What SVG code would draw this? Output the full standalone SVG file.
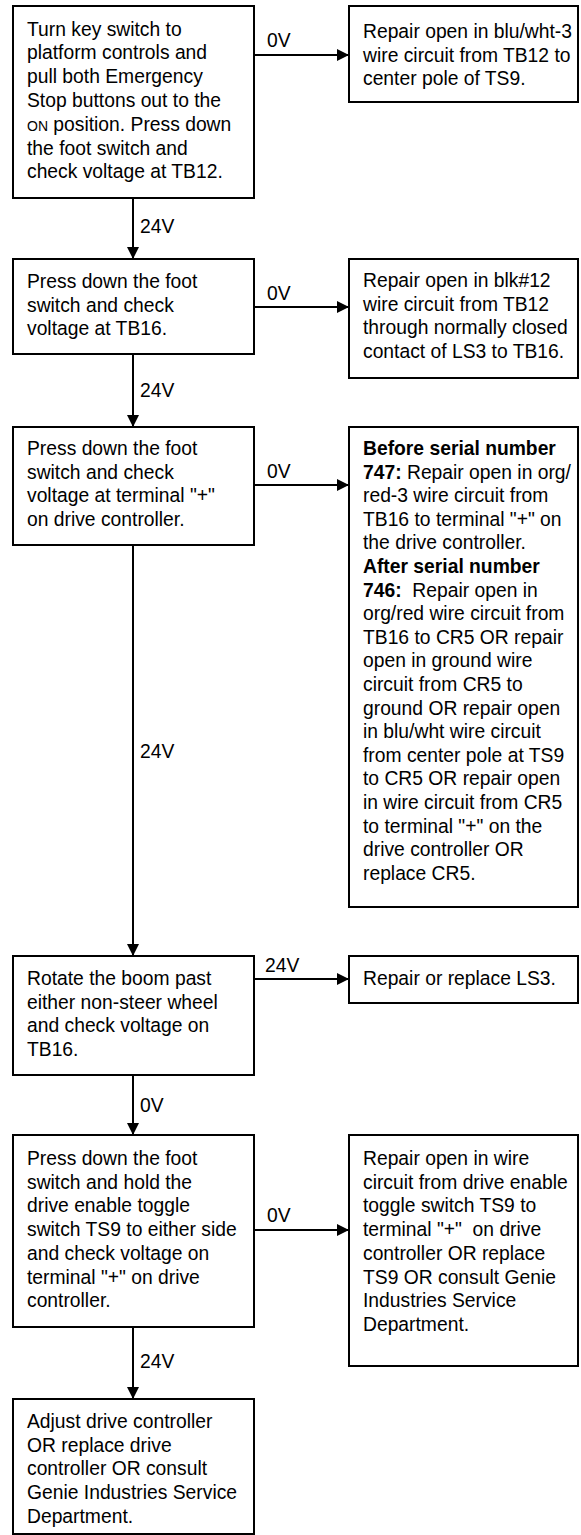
<svg xmlns="http://www.w3.org/2000/svg" width="581" height="1535" viewBox="0 0 581 1535">
<style>
  .box { fill: #fff; stroke: #000; stroke-width: 2; }
  .t { font-family: "Liberation Sans", Arial, sans-serif; font-size: 19.3px; fill: #000; white-space: pre; }
  .b { font-weight: bold; }
  .sc { font-size: 14px; }
  .lbl { font-family: "Liberation Sans", Arial, sans-serif; font-size: 19.3px; fill: #000; }
  .c { fill: none; stroke: #000; stroke-width: 2; marker-end: url(#ah); }
</style>
<defs>
  <marker id="ah" markerUnits="userSpaceOnUse" viewBox="0 0 12 12" refX="12" refY="6" markerWidth="12" markerHeight="12" orient="auto">
    <path d="M0,0 L12,6 L0,12 z" fill="#000"/>
  </marker>
</defs>
<rect width="581" height="1535" fill="#fff"/>

<g id="connectors">
  <path class="c" d="M254,55 H349"/>
  <path class="c" d="M133,198 V259"/>
  <path class="c" d="M254,307 H349"/>
  <path class="c" d="M133,354 V427"/>
  <path class="c" d="M254,485 H349"/>
  <path class="c" d="M133,545 V956"/>
  <path class="c" d="M254,979 H349"/>
  <path class="c" d="M133,1075 V1135"/>
  <path class="c" d="M254,1230 H349"/>
  <path class="c" d="M133,1327 V1399"/>
  <text class="lbl" x="267" y="47">0V</text>
  <text class="lbl" x="140" y="233">24V</text>
  <text class="lbl" x="267" y="300">0V</text>
  <text class="lbl" x="140" y="397">24V</text>
  <text class="lbl" x="267" y="478">0V</text>
  <text class="lbl" x="140" y="758">24V</text>
  <text class="lbl" x="265" y="972">24V</text>
  <text class="lbl" x="140" y="1112">0V</text>
  <text class="lbl" x="267" y="1222">0V</text>
  <text class="lbl" x="140" y="1368">24V</text>
</g>

<g id="n1">
  <rect class="box" x="13" y="6" width="241" height="192"/>
  <text class="t" x="27" y="35.5">
    <tspan x="27" y="35.5">Turn key switch to</tspan>
    <tspan x="27" dy="23.8">platform controls and</tspan>
    <tspan x="27" dy="23.8">pull both Emergency</tspan>
    <tspan x="27" dy="23.8">Stop buttons out to the</tspan>
    <tspan x="27" dy="23.8"><tspan class="sc">ON</tspan> position. Press down</tspan>
    <tspan x="27" dy="23.8">the foot switch and</tspan>
    <tspan x="27" dy="23.8">check voltage at TB12.</tspan>
  </text>
</g>

<g id="r1">
  <rect class="box" x="349" y="6" width="229" height="96"/>
  <text class="t">
    <tspan x="363" y="38">Repair open in blu/wht-3</tspan>
    <tspan x="363" dy="23.7">wire circuit from TB12 to</tspan>
    <tspan x="363" dy="23.7">center pole of TS9.</tspan>
  </text>
</g>

<g id="n2">
  <rect class="box" x="13" y="259" width="241" height="95"/>
  <text class="t">
    <tspan x="27" y="288">Press down the foot</tspan>
    <tspan x="27" dy="23.7">switch and check</tspan>
    <tspan x="27" dy="23.7">voltage at TB16.</tspan>
  </text>
</g>

<g id="r2">
  <rect class="box" x="349" y="259" width="229" height="119"/>
  <text class="t">
    <tspan x="363" y="287">Repair open in blk#12</tspan>
    <tspan x="363" dy="23.7">wire circuit from TB12</tspan>
    <tspan x="363" dy="23.7">through normally closed</tspan>
    <tspan x="363" dy="23.7">contact of LS3 to TB16.</tspan>
  </text>
</g>

<g id="n3">
  <rect class="box" x="13" y="427" width="241" height="118"/>
  <text class="t">
    <tspan x="27" y="455">Press down the foot</tspan>
    <tspan x="27" dy="23.7">switch and check</tspan>
    <tspan x="27" dy="23.7">voltage at terminal "+"</tspan>
    <tspan x="27" dy="23.7">on drive controller.</tspan>
  </text>
</g>

<g id="r3">
  <rect class="box" x="349" y="427" width="229" height="480"/>
  <text class="t">
    <tspan x="363" y="455" class="b">Before serial number</tspan>
    <tspan x="363" dy="23.6"><tspan class="b">747:</tspan> Repair open in org/</tspan>
    <tspan x="363" dy="23.6">red-3 wire circuit from</tspan>
    <tspan x="363" dy="23.6">TB16 to terminal "+" on</tspan>
    <tspan x="363" dy="23.6">the drive controller.</tspan>
    <tspan x="363" dy="23.6" class="b">After serial number</tspan>
    <tspan x="363" dy="23.6"><tspan class="b">746:</tspan>  Repair open in</tspan>
    <tspan x="363" dy="23.6">org/red wire circuit from</tspan>
    <tspan x="363" dy="23.6">TB16 to CR5 OR repair</tspan>
    <tspan x="363" dy="23.6">open in ground wire</tspan>
    <tspan x="363" dy="23.6">circuit from CR5 to</tspan>
    <tspan x="363" dy="23.6">ground OR repair open</tspan>
    <tspan x="363" dy="23.6">in blu/wht wire circuit</tspan>
    <tspan x="363" dy="23.6">from center pole at TS9</tspan>
    <tspan x="363" dy="23.6">to CR5 OR repair open</tspan>
    <tspan x="363" dy="23.6">in wire circuit from CR5</tspan>
    <tspan x="363" dy="23.6">to terminal "+" on the</tspan>
    <tspan x="363" dy="23.6">drive controller OR</tspan>
    <tspan x="363" dy="23.6">replace CR5.</tspan>
  </text>
</g>

<g id="n4">
  <rect class="box" x="13" y="956" width="241" height="119"/>
  <text class="t">
    <tspan x="27" y="985">Rotate the boom past</tspan>
    <tspan x="27" dy="23.7">either non-steer wheel</tspan>
    <tspan x="27" dy="23.7">and check voltage on</tspan>
    <tspan x="27" dy="23.7">TB16.</tspan>
  </text>
</g>

<g id="r4">
  <rect class="box" x="349" y="956" width="229" height="47"/>
  <text class="t" x="363" y="985">Repair or replace LS3.</text>
</g>

<g id="n5">
  <rect class="box" x="13" y="1135" width="241" height="192"/>
  <text class="t">
    <tspan x="27" y="1165">Press down the foot</tspan>
    <tspan x="27" dy="23.7">switch and hold the</tspan>
    <tspan x="27" dy="23.7">drive enable toggle</tspan>
    <tspan x="27" dy="23.7">switch TS9 to either side</tspan>
    <tspan x="27" dy="23.7">and check voltage on</tspan>
    <tspan x="27" dy="23.7">terminal "+" on drive</tspan>
    <tspan x="27" dy="23.7">controller.</tspan>
  </text>
</g>

<g id="r5">
  <rect class="box" x="349" y="1135" width="229" height="231"/>
  <text class="t">
    <tspan x="363" y="1165">Repair open in wire</tspan>
    <tspan x="363" dy="23.7">circuit from drive enable</tspan>
    <tspan x="363" dy="23.7">toggle switch TS9 to</tspan>
    <tspan x="363" dy="23.7">terminal "+"  on drive</tspan>
    <tspan x="363" dy="23.7">controller OR replace</tspan>
    <tspan x="363" dy="23.7">TS9 OR consult Genie</tspan>
    <tspan x="363" dy="23.7">Industries Service</tspan>
    <tspan x="363" dy="23.7">Department.</tspan>
  </text>
</g>

<g id="n6">
  <rect class="box" x="13" y="1399" width="241" height="135"/>
  <text class="t">
    <tspan x="27" y="1428">Adjust drive controller</tspan>
    <tspan x="27" dy="23.7">OR replace drive</tspan>
    <tspan x="27" dy="23.7">controller OR consult</tspan>
    <tspan x="27" dy="23.7">Genie Industries Service</tspan>
    <tspan x="27" dy="23.7">Department.</tspan>
  </text>
</g>
</svg>
